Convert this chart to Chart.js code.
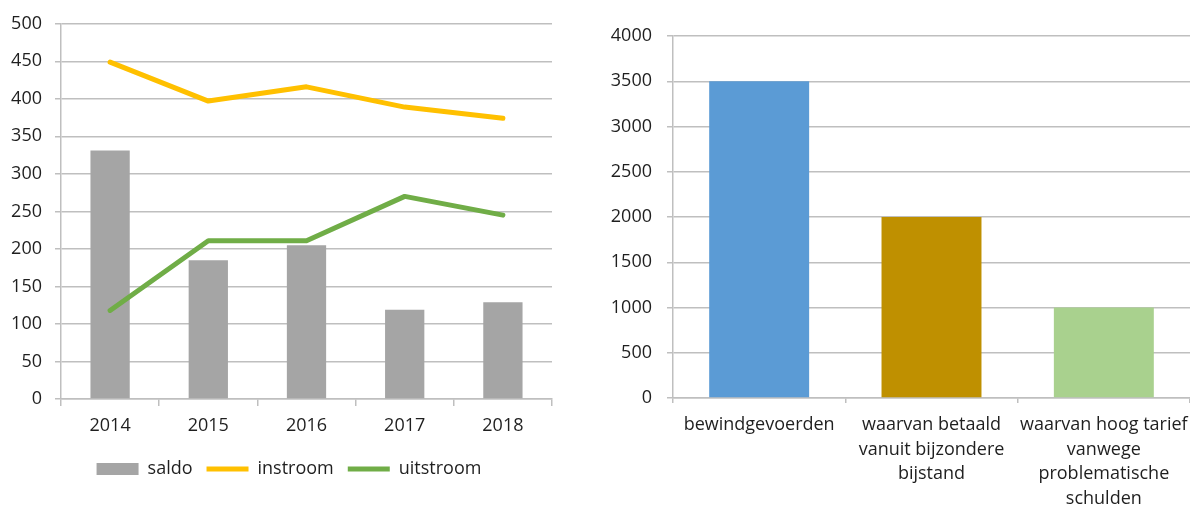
<!DOCTYPE html>
<html>
<head>
<meta charset="utf-8">
<script src="https://cdn.jsdelivr.net/npm/chart.js@4.4.1/dist/chart.umd.min.js"></script>
<style>
  html, body { margin: 0; padding: 0; background: #fff; overflow: hidden; width: 1190px; height: 509px; }
  #left { position: absolute; left: 0; top: 0; }
  #right { position: absolute; left: 590px; top: 0; }
</style>
</head>
<body>
<canvas id="left" width="578" height="509"></canvas>
<canvas id="right" width="630" height="509"></canvas>
<script>
const years = ['2014', '2015', '2016', '2017', '2018'];
const saldo = [331, 185, 205, 119, 129];
const instroom = [449, 397, 416, 389, 374];
const uitstroom = [118, 211, 211, 270, 245];

const groups = [
  ['bewindgevoerden'],
  ['waarvan betaald', 'vanuit bijzondere', 'bijstand'],
  ['waarvan hoog tarief', 'vanwege', 'problematische', 'schulden']
];
const counts = [3500, 2000, 1000];

const FONT = 'Open Sans';
const TEXT = '#1f1f1f';
const GRID = '#BFBFBF';

Chart.defaults.font.family = FONT;
Chart.defaults.font.size = 18;
Chart.defaults.color = TEXT;
Chart.defaults.animation = false;

// legend sits a bit right of the canvas centre in the original
const nudgeLegend = {
  id: 'nudgeLegend',
  afterLayout(chart) {
    chart.legend.left += 13;
    chart.legend.right += 13;
  }
};

// left: saldo bars with in/uitstroom lines
new Chart(document.getElementById('left').getContext('2d'), {
  type: 'bar',
  data: {
    labels: years,
    datasets: [{
      label: 'saldo',
      data: saldo,
      backgroundColor: '#A5A5A5',
      borderWidth: 0,
      barPercentage: 0.4,
      categoryPercentage: 1,
      pointStyle: 'rect',
      order: 2
    }, {
      type: 'line',
      label: 'instroom',
      data: instroom,
      borderColor: '#FFC000',
      backgroundColor: '#FFC000',
      borderWidth: 5,
      borderCapStyle: 'round',
      borderJoinStyle: 'round',
      pointRadius: 0,
      pointStyle: 'line',
      order: 1
    }, {
      type: 'line',
      label: 'uitstroom',
      data: uitstroom,
      borderColor: '#70AD47',
      backgroundColor: '#70AD47',
      borderWidth: 5,
      borderCapStyle: 'round',
      borderJoinStyle: 'round',
      pointRadius: 0,
      pointStyle: 'line',
      order: 1
    }]
  },
  plugins: [nudgeLegend],
  options: {
    responsive: false,
    devicePixelRatio: 1,
    layout: { padding: { top: 22, right: 26, bottom: 21, left: 0 } },
    plugins: {
      tooltip: { enabled: false },
      legend: {
        position: 'bottom',
        labels: {
          usePointStyle: true,
          pointStyleWidth: 42,
          boxHeight: 12,
          padding: 14,
          color: TEXT,
          font: { size: 18 },
          sort: (a, b) => a.datasetIndex - b.datasetIndex
        }
      }
    },
    scales: {
      x: {
        offset: true,
        grid: { offset: true, drawOnChartArea: false, drawTicks: true, tickLength: 7, color: GRID, lineWidth: 1.5 },
        border: { color: GRID, width: 1.5 },
        ticks: { padding: 9, color: TEXT, maxRotation: 0 },
        afterFit: (s) => { s.height = 47; }
      },
      y: {
        min: 0,
        max: 500,
        ticks: { stepSize: 50, padding: 13, color: TEXT },
        grid: { color: GRID, lineWidth: 1.5, tickLength: 6 },
        border: { color: GRID, width: 1.5 },
        afterFit: (s) => { s.width = 61; }
      }
    }
  }
});

// right: bewindvoering counts
new Chart(document.getElementById('right').getContext('2d'), {
  type: 'bar',
  data: {
    labels: groups,
    datasets: [{
      data: counts,
      backgroundColor: ['#5B9BD5', '#BF9000', '#A9D18E'],
      borderWidth: 0,
      barPercentage: 0.58,
      categoryPercentage: 1
    }]
  },
  options: {
    responsive: false,
    devicePixelRatio: 1,
    layout: { padding: { top: 36, right: 30, bottom: 0, left: 0 } },
    plugins: {
      tooltip: { enabled: false },
      legend: { display: false }
    },
    scales: {
      x: {
        offset: true,
        grid: { offset: true, drawOnChartArea: false, drawTicks: true, tickLength: 5, color: GRID, lineWidth: 1.5 },
        border: { color: GRID, width: 1.5 },
        ticks: { padding: 10, color: TEXT, maxRotation: 0, autoSkip: false, font: { size: 18, lineHeight: 1.36 } },
        afterFit: (s) => { s.height = 111; }
      },
      y: {
        min: 0,
        max: 4000,
        ticks: { stepSize: 500, padding: 15, color: TEXT, callback: (v) => String(v) },
        grid: { color: GRID, lineWidth: 1.5, tickLength: 6 },
        border: { color: GRID, width: 1.5 },
        afterFit: (s) => { s.width = 83; }
      }
    }
  }
});
</script>
</body>
</html>
